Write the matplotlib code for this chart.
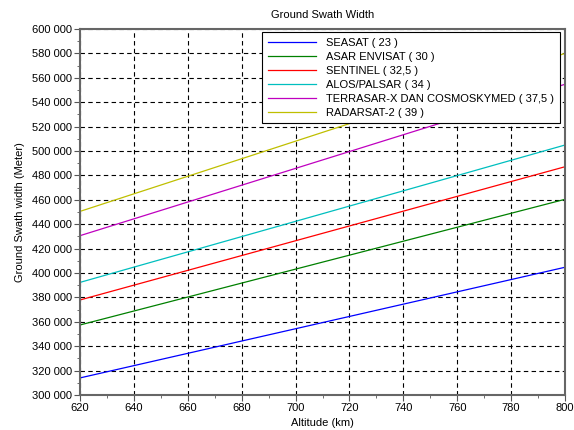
import matplotlib
matplotlib.use("Agg")
import matplotlib.pyplot as plt
from matplotlib.ticker import MultipleLocator, FuncFormatter

# altitude (km) and ground swath width (m)
altitude = [620, 800]
seasat = [314000, 404700]
asar = [357400, 460400]
sentinel = [377900, 487100]
alos = [392300, 504900]
terrasar = [430600, 554700]
radarsat = [450500, 580000]

names = ["SEASAT ( 23 )", "ASAR ENVISAT ( 30 )", "SENTINEL ( 32,5 )",
         "ALOS/PALSAR ( 34 )", "TERRASAR-X DAN COSMOSKYMED ( 37,5 )",
         "RADARSAT-2 ( 39 )"]
series = [seasat, asar, sentinel, alos, terrasar, radarsat]
colors = ["#0000ff", "#008000", "#ff0000", "#00bfbf", "#bf00bf", "#bfbf00"]

plt.rcParams['font.family'] = ['Liberation Sans', 'DejaVu Sans']

fig = plt.figure(figsize=(5.74, 4.30), dpi=100)
ax = fig.add_axes([80 / 574, 35 / 430, 485 / 574, 366 / 430])

for y, c, n in zip(series, colors, names):
    ax.plot(altitude, y, color=c, lw=0.9, label=n)

ax.set_xlim(620, 800)
ax.set_ylim(300000, 600000)
ax.xaxis.set_major_locator(MultipleLocator(20))
ax.xaxis.set_minor_locator(MultipleLocator(10))
ax.yaxis.set_major_locator(MultipleLocator(20000))
ax.yaxis.set_minor_locator(MultipleLocator(10000))
ax.yaxis.set_major_formatter(FuncFormatter(lambda v, p: "{:,.0f}".format(v).replace(",", " ")))

ax.grid(True, which='major', color='black', ls=(0, (4, 3)), lw=0.8)
ax.tick_params(which='both', labelsize=8, direction='out', color='#555555', pad=2)
ax.tick_params(which='major', length=4)
ax.tick_params(which='minor', length=2)
for s in ax.spines.values():
    s.set_color('#666666')
    s.set_linewidth(1.5)

ax.set_title("Ground Swath Width", fontsize=8, pad=8)
ax.set_xlabel("Altitude (km)", fontsize=8, labelpad=3)
ax.set_ylabel("Ground Swath width (Meter)", fontsize=8, labelpad=5)

leg = ax.legend(loc='upper left', bbox_to_anchor=(182 / 485, 1 - 3 / 366),
                fontsize=8, frameon=True, fancybox=False, framealpha=1,
                edgecolor='black', handlelength=4.4, borderpad=0.5,
                labelspacing=0.36, handletextpad=0.9, borderaxespad=0)
leg.get_frame().set_linewidth(0.8)

fig.savefig("out.png", dpi=100, facecolor='white')
